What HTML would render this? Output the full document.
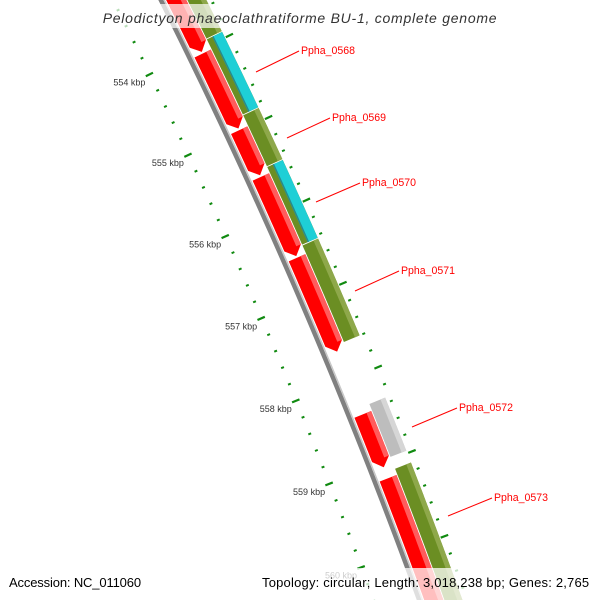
<!DOCTYPE html>
<html><head><meta charset="utf-8"><style>
html,body{margin:0;padding:0;background:#fff;overflow:hidden;width:600px;height:600px;}
svg{display:block;font-family:"Liberation Sans",sans-serif;}
</style></head><body>
<svg id="map" width="600" height="600" viewBox="0 0 600 600" xmlns="http://www.w3.org/2000/svg">
<g id="ticks"></g>
<g id="backbone"></g>
<g id="genes"></g>
<g id="labels"></g>
<rect x="100" y="4" width="400" height="24" fill="#fff" opacity="0.7"/>
<text x="300" y="23" text-anchor="middle" font-size="14" font-style="italic" letter-spacing="0.75" fill="#333">Pelodictyon phaeoclathratiforme BU-1, complete genome</text>
<rect x="258" y="568" width="338" height="32" fill="#fff" opacity="0.75"/>
<text x="9" y="587" font-size="13" letter-spacing="-0.15" fill="#000">Accession: NC_011060</text>
<text x="262" y="587" font-size="13" letter-spacing="0.2" fill="#000">Topology: circular; Length: 3,018,238 bp; Genes: 2,765</text>
</svg>
<script>
// data
const majorTicks = [554, 555, 556, 557, 558, 559, 560];
const tickLabels = ["554 kbp","555 kbp","556 kbp","557 kbp","558 kbp","559 kbp","560 kbp"];
const redStarts = [553.0, 554.05, 554.99, 555.56, 556.54, 558.42, 559.18];
const redEnds   = [554.03, 554.97, 555.54, 556.52, 557.67, 559.05, 561.0];
const outerStarts = [553.0, 553.93, 554.86, 555.49, 556.44, 558.34, 559.11];
const outerEnds   = [553.92, 554.85, 555.48, 556.43, 557.60, 558.97, 561.0];
const outerTypes  = ["olive","cyan","olive","cyan","olive","gray","olive"];
const geneNames = ["Ppha_0568","Ppha_0569","Ppha_0570","Ppha_0571","Ppha_0572","Ppha_0573"];
const leaderStarts = [[256,72],[287,138],[316,202],[355,291],[412,427],[448,516]];
const labelPos = [[301,54],[332,121],[362,186],[401,274],[459,411],[494,501]];

const NS="http://www.w3.org/2000/svg";
const CX=-4869, CY=2521;
function ang(k){return (-25.99+(k-554)*0.918)*Math.PI/180;}
function pt(k,r){const a=ang(k);return [CX+r*Math.cos(a),CY+r*Math.sin(a)];}
function el(tag,attrs,parent){const e=document.createElementNS(NS,tag);for(const k in attrs)e.setAttribute(k,attrs[k]);parent.appendChild(e);return e;}
function band(k1,k2,r1,r2,arrow){
  const pts=[];const N=40;
  let kEnd=k2;let head=0;
  if(arrow){head=0.1; if(k2-k1<head*1.5) head=(k2-k1)/2; kEnd=k2-head;}
  for(let i=0;i<=N;i++){pts.push(pt(k1+(kEnd-k1)*i/N,r1));}
  if(arrow){pts.push(pt(k2,(r1+r2)/2));}
  for(let i=N;i>=0;i--){pts.push(pt(k1+(kEnd-k1)*i/N,r2));}
  return "M"+pts.map(p=>p[0].toFixed(2)+","+p[1].toFixed(2)).join("L")+"Z";
}
const tg=document.getElementById('ticks');
for(let i=0;i<=40;i++){
  const k=553+i*0.2; if(Math.abs(k-Math.round(k))<0.01) continue;
  let a=pt(k,5582),b=pt(k,5585);
  let l=el('line',{x1:a[0],y1:a[1],x2:b[0],y2:b[1],stroke:'#108a10','stroke-width':2},tg);
  
  
  a=pt(k,5670);b=pt(k,5673);
  l=el('line',{x1:a[0],y1:a[1],x2:b[0],y2:b[1],stroke:'#108a10','stroke-width':2},tg);
  
  
}
majorTicks.forEach((k,i)=>{
  let a=pt(k,5579),b=pt(k,5587);
  let l=el('line',{x1:a[0],y1:a[1],x2:b[0],y2:b[1],stroke:'#108a10','stroke-width':2.2},tg);
  
  
  a=pt(k,5668);b=pt(k,5676);
  l=el('line',{x1:a[0],y1:a[1],x2:b[0],y2:b[1],stroke:'#108a10','stroke-width':2.2},tg);
  
  
  const c=pt(k,5583);
  const t=el('text',{x:c[0]-4,y:c[1]+11,'text-anchor':'end','font-size':9,fill:'#333'},tg);
  
  
  t.textContent=tickLabels[i];
});
const bb=document.getElementById('backbone');
let p=el('path',{d:band(553,561,5624,5628.5,false),fill:'#808080'},bb);


p=el('path',{d:band(553,561,5628.5,5630,false),fill:'#c8c8c8'},bb);


const gg=document.getElementById('genes');
redStarts.forEach((s,i)=>{
  const e=redEnds[i];
  let g=el('path',{d:band(s,e,5631,5649,true),fill:'#ff0000'},gg);
  
  
  g=el('path',{d:band(s,e-0.1,5644,5649,false),fill:'#ff5c5c'},gg);
  
  
});
outerStarts.forEach((s,i)=>{
  const e=outerEnds[i],t=outerTypes[i];
  const main=t==='gray'?'#bdbdbd':'#6b8e23';
  let g=el('path',{d:band(s,e,5650,5667,false),fill:main},gg);
  
  
  g=el('path',{d:band(s,e,5662,5667,false),fill:t==='gray'?'#d6d6d6':'#8ea84a'},gg);
  
  
  if(t==='cyan'){
    g=el('path',{d:band(s,e,5656,5667,false),fill:'#1ecfd6'},gg);
    
    
    g=el('path',{d:band(s,e,5656,5657.5,false),fill:'#2a8a8a'},gg);
    
    
  }
});
const lg=document.getElementById('labels');
geneNames.forEach((n,i)=>{
  const [sx,sy]=leaderStarts[i];
  const [tx,ty]=labelPos[i];
  let l=el('line',{x1:sx,y1:sy,x2:tx-2,y2:ty-3,stroke:'#ff0000','stroke-width':1},lg);
  
  
  const t=el('text',{x:tx,y:ty,'font-size':11,fill:'#ff0000',textLength:54,lengthAdjust:'spacingAndGlyphs'},lg);
  
  
  t.textContent=n;
});
</script>
</body></html>
